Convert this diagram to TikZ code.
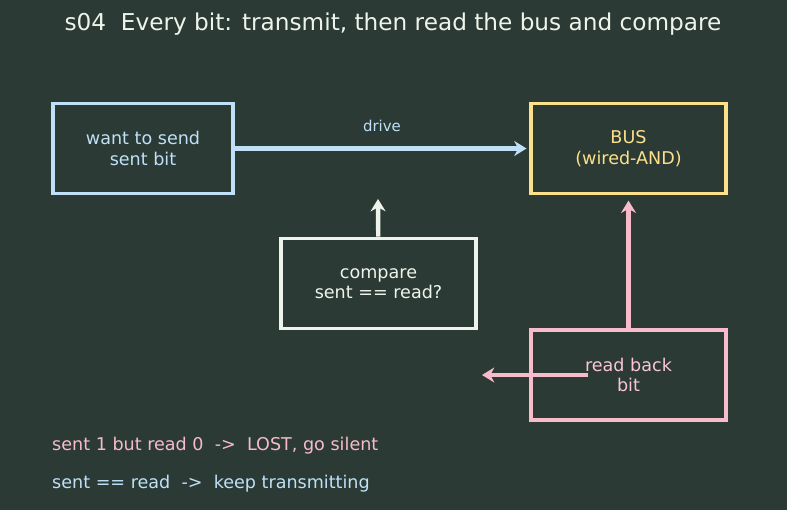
\documentclass[tikz,border=0pt]{standalone}
\usepackage{fontspec}
\setmainfont{DejaVu Sans}
\usepackage{xcolor}
\usetikzlibrary{arrows.meta}

\definecolor{bgc}{HTML}{2B3A34}
\definecolor{sendc}{HTML}{BFE0F7}
\definecolor{busc}{HTML}{FCE08A}
\definecolor{cmpc}{HTML}{EEF4EC}
\definecolor{readc}{HTML}{F8BBCB}

\tikzset{
  blk/.style={draw, line width=2.1pt, minimum width=3.58cm, minimum height=1.8cm,
    align=center, font=\fontsize{10}{11.6}\selectfont},
  arr/.style={line width=2.5pt, -{Stealth[length=7pt,width=8.5pt]}},
  note/.style={anchor=west, font=\fontsize{10}{11.6}\selectfont}
}

\begin{document}
\begin{tikzpicture}[x=0.02cm, y=-0.02cm]
  \fill[bgc] (0,0) rectangle (787,510);
  \useasboundingbox (0,0) rectangle (787,510);

  \node[text=cmpc, font=\fontsize{13.2}{15}\selectfont] (title) at (393,24)
    {s04\ \ Every bit: transmit, then read the bus and compare};

  % boxes
  \node[blk, draw=sendc, text=sendc, minimum width=3.6cm] (send) at (143,148.5) {want to send\\sent bit};
  \node[blk, draw=busc, text=busc, minimum width=3.9cm] (bus) at (628.5,148.5) {BUS\\(wired-AND)};
  \node[blk, draw=cmpc, text=cmpc, minimum width=3.9cm] (cmp) at (378.5,283.5) {compare\\sent == read?};
  \node[blk, draw=readc, text=readc!85!white, minimum width=3.9cm] (rb) at (628.5,375) {read back\\bit};

  % arrows
  \coordinate (cmptip) at (378,199);
  \coordinate (rbstart) at (588,375);
  \coordinate (rbend) at (482,375);
  \draw[arr, sendc, shorten >=1.5pt] (send) -- node[above=5pt, font=\fontsize{8.5}{10}\selectfont] {drive} (bus);
  \draw[arr, cmpc] (cmp) -- (cmptip);
  \draw[arr, readc, shorten >=3pt] (rb) -- (bus);
  \draw[arr, readc] (rbstart) -- (rbend);

  % notes
  \node[note, text=readc] (lost) at (46,446) {sent 1 but read 0\ \ ->\ \ LOST, go silent};
  \node[note, text=sendc] (keep) at (46,484) {sent == read\ \ ->\ \ keep transmitting};
\end{tikzpicture}
\end{document}
